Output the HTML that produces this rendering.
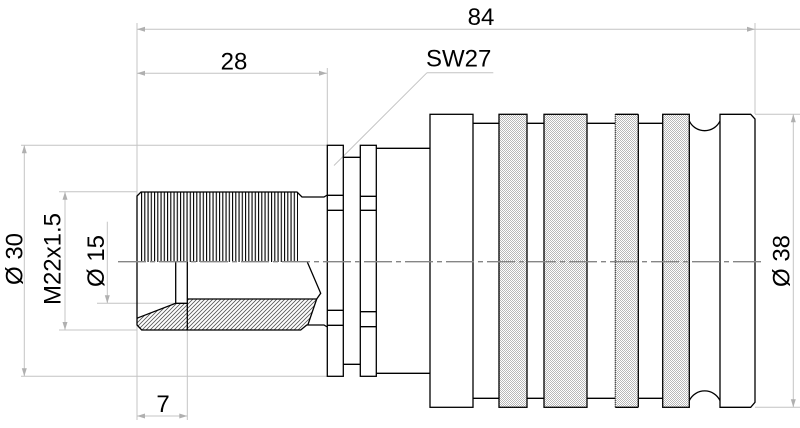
<!DOCTYPE html>
<html><head><meta charset="utf-8"><style>
html,body{margin:0;padding:0;background:#fff;}
svg{display:block;}
text{font-family:"Liberation Sans",Arial,sans-serif;font-size:24px;fill:#000;}
</style></head><body>
<svg width="800" height="428" viewBox="0 0 800 428" xmlns="http://www.w3.org/2000/svg">
<defs>
<pattern id="thr" patternUnits="userSpaceOnUse" x="141" y="0" width="3.25" height="10">
<rect x="0" y="0" width="1.1" height="10" fill="#000"/>
</pattern>
<pattern id="hat" patternUnits="userSpaceOnUse" width="4" height="4">
<path d="M-1,1 L1,-1 M0,4 L4,0 M3,5 L5,3" stroke="#555" stroke-width="0.8"/>
</pattern>
<pattern id="knl" patternUnits="userSpaceOnUse" width="2" height="2">
<rect width="2" height="2" fill="#fff"/>
<rect x="0" y="0" width="1" height="1" fill="#b8b8b8"/>
<rect x="1" y="1" width="1" height="1" fill="#b8b8b8"/>
</pattern>
</defs>

<!-- dimension / extension lines (grey) -->
<g stroke="#c4c4c4" stroke-width="1" fill="none">
<line x1="137" y1="23" x2="137" y2="420"/>
<line x1="137" y1="29.3" x2="800" y2="29.3"/>
<line x1="755" y1="23" x2="755" y2="114"/>
<line x1="137" y1="73.3" x2="327" y2="73.3"/>
<line x1="327.3" y1="68" x2="327.3" y2="145"/>
<line x1="427" y1="72.7" x2="493.3" y2="72.7"/>
<line x1="427" y1="72.7" x2="334" y2="165.5"/>
<line x1="21" y1="145.3" x2="327" y2="145.3"/>
<line x1="21" y1="376.3" x2="327" y2="376.3"/>
<line x1="24.3" y1="145.3" x2="24.3" y2="376.3"/>
<line x1="59" y1="191.7" x2="137" y2="191.7"/>
<line x1="59" y1="330" x2="137" y2="330"/>
<line x1="65" y1="191.7" x2="65" y2="330"/>
<line x1="97" y1="303.3" x2="175" y2="303.3"/>
<line x1="107.3" y1="221.7" x2="107.3" y2="303.3"/>
<line x1="187.3" y1="330" x2="187.3" y2="420"/>
<line x1="137" y1="416" x2="187.3" y2="416"/>
<line x1="755" y1="114.3" x2="800" y2="114.3"/>
<line x1="755" y1="407.3" x2="800" y2="407.3"/>
<line x1="793.3" y1="114.3" x2="793.3" y2="407.3"/>
</g>
<!-- arrowheads -->
<g fill="#b0b0b0">
<polygon points="137,29.3 145,26.8 145,31.8"/>
<polygon points="755,29.3 747,26.8 747,31.8"/>
<polygon points="137,73.3 145,70.8 145,75.8"/>
<polygon points="327,73.3 319,70.8 319,75.8"/>
<polygon points="24.3,145.3 21.8,153.3 26.8,153.3"/>
<polygon points="24.3,376.3 21.8,368.3 26.8,368.3"/>
<polygon points="65,191.7 62.5,199.7 67.5,199.7"/>
<polygon points="65,330 62.5,322 67.5,322"/>
<polygon points="107.3,303.3 104.8,295.3 109.8,295.3"/>
<polygon points="137,416 145,413.5 145,418.5"/>
<polygon points="187.3,416 179.3,413.5 179.3,418.5"/>
<polygon points="793.3,114.3 790.8,122.3 795.8,122.3"/>
<polygon points="793.3,407.3 790.8,399.3 795.8,399.3"/>
</g>

<!-- hatched regions -->
<polygon points="136.7,318.3 175.7,303.3 187.3,303.3 187.3,330 141.7,330 136.7,325" fill="url(#hat)"/>
<polygon points="187.3,299 316.7,299 308,325 300.7,330 187.3,330" fill="url(#hat)"/>

<!-- thread lines -->
<rect x="141" y="192" width="157" height="70" fill="url(#thr)"/>

<!-- knurls -->
<g fill="url(#knl)">
<rect x="499" y="114.3" width="28" height="293"/>
<rect x="544" y="114.3" width="43" height="293"/>
<rect x="615.3" y="114.3" width="23" height="293"/>
<rect x="662.7" y="114.3" width="26.6" height="293"/>
</g>

<!-- outlines -->
<g stroke="#000" stroke-width="1.3" fill="none" stroke-linejoin="miter">
<path d="M137,262 V196 L141,192 H297 L302,197 H324 L327.3,195"/>
<path d="M137,262 V325 L141.7,330 H300.7 L306.7,325 H324 L327.3,327"/>
<path d="M175.7,262 V303.3 M187.3,262 V330"/>
<path d="M136.7,318.3 L175.7,303.3 H187.3 M187.3,299 H316.7 L308,324.5"/>
<path d="M307.3,262 L320.7,293.3 L316.7,299"/>
<rect x="327.3" y="145.3" width="16" height="231"/>
<rect x="360.3" y="145.3" width="16" height="231"/>
<path d="M343.3,157.3 H360.3 M343.3,364.3 H360.3"/>
<path d="M327.3,195.3 H343.3 M327.3,210.3 H343.3 M327.3,310.3 H343.3 M327.3,325.3 H343.3"/>
<path d="M360.3,196.3 H376.3 M360.3,210.3 H376.3 M360.3,311.7 H376.3 M360.3,326.7 H376.3"/>
<path d="M376.3,148.3 H430 M376.3,373.3 H430"/>
<rect x="430" y="114.3" width="43" height="293"/>
<path d="M473,123.3 H499 M527,123.3 H544 M587,123.3 H615 M639,123.3 H662.7"/>
<path d="M473,398.3 H499 M527,398.3 H544 M587,398.3 H615 M639,398.3 H662.7"/>
<rect x="499" y="114.3" width="28" height="293"/>
<rect x="544" y="114.3" width="43" height="293"/>
<path d="M638.3,114.3 V407.3 M615.3,114.3 H638.3 M615.3,407.3 H638.3"/>
<rect x="662.7" y="114.3" width="26.6" height="293"/>
<path d="M689.3,121 A17,17 0 0 0 720,121"/>
<path d="M689.3,400.6 A17,17 0 0 1 720,400.6"/>
<path d="M720,114.3 H750.7 L755,119 V402.3 L750.7,407.3 H720 Z"/>
</g>
<line x1="615.3" y1="114.3" x2="615.3" y2="407.3" stroke="#000" stroke-width="1.2" stroke-dasharray="1 1"/>

<!-- centerline -->
<line x1="118" y1="261.7" x2="765" y2="261.7" stroke="#858585" stroke-width="1.4" stroke-dasharray="28 4 5 4"/>

<!-- texts -->
<text x="481" y="25" text-anchor="middle">84</text>
<text x="234" y="69.3" text-anchor="middle">28</text>
<text x="426" y="66.7">SW27</text>
<text x="163" y="412" text-anchor="middle">7</text>
<text transform="translate(22.7,259) rotate(-90)" text-anchor="middle">Ø 30</text>
<text transform="translate(60.7,259) rotate(-90)" text-anchor="middle">M22x1.5</text>
<text transform="translate(104,261) rotate(-90)" text-anchor="middle">Ø 15</text>
<text transform="translate(789.3,261) rotate(-90)" text-anchor="middle">Ø 38</text>
</svg>
</body></html>
